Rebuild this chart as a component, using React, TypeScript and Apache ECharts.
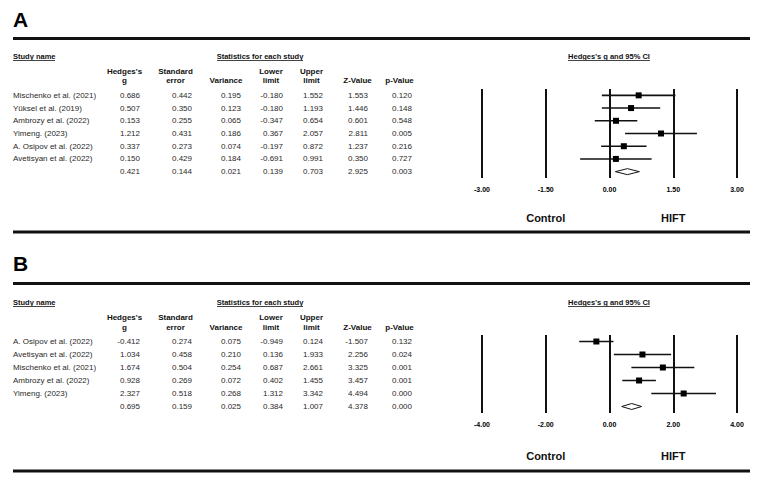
import React, { useEffect, useRef } from "react";
import * as echarts from "echarts";

// ---------- Panel A data ----------
const STUDIES_A = [
  "Mischenko et al. (2021)",
  "Yüksel et al. (2019)",
  "Ambrozy et al. (2022)",
  "Yimeng. (2023)",
  "A. Osipov et al. (2022)",
  "Avetisyan et al. (2022)",
  "",
];
const G_A = [0.686, 0.507, 0.153, 1.212, 0.337, 0.15, 0.421];
const SE_A = [0.442, 0.35, 0.255, 0.431, 0.273, 0.429, 0.144];
const VAR_A = [0.195, 0.123, 0.065, 0.186, 0.074, 0.184, 0.021];
const LOW_A = [-0.18, -0.18, -0.347, 0.367, -0.197, -0.691, 0.139];
const UP_A = [1.552, 1.193, 0.654, 2.057, 0.872, 0.991, 0.703];
const Z_A = [1.553, 1.446, 0.601, 2.811, 1.237, 0.35, 2.925];
const P_A = [0.12, 0.148, 0.548, 0.005, 0.216, 0.727, 0.003];
const AXIS_A = { min: -3, max: 3, interval: 1.5 };

// ---------- Panel B data ----------
const STUDIES_B = [
  "A. Osipov et al. (2022)",
  "Avetisyan et al. (2022)",
  "Mischenko et al. (2021)",
  "Ambrozy et al. (2022)",
  "Yimeng. (2023)",
  "",
];
const G_B = [-0.412, 1.034, 1.674, 0.928, 2.327, 0.695];
const SE_B = [0.274, 0.458, 0.504, 0.269, 0.518, 0.159];
const VAR_B = [0.075, 0.21, 0.254, 0.072, 0.268, 0.025];
const LOW_B = [-0.949, 0.136, 0.687, 0.402, 1.312, 0.384];
const UP_B = [0.124, 1.933, 2.661, 1.455, 3.342, 1.007];
const Z_B = [-1.507, 2.256, 3.325, 3.457, 4.494, 4.378];
const P_B = [0.132, 0.024, 0.001, 0.001, 0.0, 0.0];
const AXIS_B = { min: -4, max: 4, interval: 2 };

const HEADERS = [
  ["Hedges's", "g"],
  ["Standard", "error"],
  ["", "Variance"],
  ["Lower", "limit"],
  ["Upper", "limit"],
  ["", "Z-Value"],
  ["", "p-Value"],
];
const FAVOURS = ["Control", "HIFT"];

const FONT = "'Liberation Sans', Arial, Helvetica, sans-serif";
const COL_RIGHT = [140, 192, 241, 283, 323, 368, 412];
const COL_CENTER = [124.5, 175.5, 226, 271, 311.5, 357.5, 399.5];
const PLOT_LEFT = 482;
const PLOT_RIGHT = 737;

type Panel = {
  label: string;
  studies: string[];
  cols: number[][];
  g: number[];
  low: number[];
  up: number[];
  axis: { min: number; max: number; interval: number };
  labelY: number;
  topLine: number;
  titleY: number;
  head1Y: number;
  head2Y: number;
  gridTop: number;
  gridH: number;
  bottomLine: number;
  favY: number;
};

const PANELS: Panel[] = [
  {
    label: "A",
    studies: STUDIES_A,
    cols: [G_A, SE_A, VAR_A, LOW_A, UP_A, Z_A, P_A],
    g: G_A,
    low: LOW_A,
    up: UP_A,
    axis: AXIS_A,
    labelY: 19.5,
    topLine: 38.5,
    titleY: 56,
    head1Y: 71,
    head2Y: 80,
    gridTop: 89,
    gridH: 89,
    bottomLine: 232,
    favY: 218,
  },
  {
    label: "B",
    studies: STUDIES_B,
    cols: [G_B, SE_B, VAR_B, LOW_B, UP_B, Z_B, P_B],
    g: G_B,
    low: LOW_B,
    up: UP_B,
    axis: AXIS_B,
    labelY: 263.5,
    topLine: 283.5,
    titleY: 302,
    head1Y: 317,
    head2Y: 327,
    gridTop: 335,
    gridH: 78,
    bottomLine: 471,
    favY: 456,
  },
];

function txt(
  x: number,
  y: number,
  text: string,
  opts: { size?: number; bold?: boolean; align?: string; color?: string } = {}
) {
  return {
    type: "text",
    x,
    y,
    silent: true,
    style: {
      text,
      fontFamily: FONT,
      fontSize: opts.size ?? 8,
      fontWeight: opts.bold ? "bold" : "normal",
      fill: opts.color ?? "#2a2a2a",
      align: opts.align ?? "left",
      verticalAlign: "middle",
    },
  };
}

function hline(x1: number, x2: number, y: number, w: number, color = "#111") {
  return {
    type: "line",
    silent: true,
    shape: { x1, y1: y, x2, y2: y },
    style: { stroke: color, lineWidth: w },
  };
}

function buildOption() {
  const grids: any[] = [];
  const xAxes: any[] = [];
  const yAxes: any[] = [];
  const series: any[] = [];
  const graphics: any[] = [];

  PANELS.forEach((p, pi) => {
    const n = p.studies.length;
    const rowH = p.gridH / n;
    grids.push({
      left: PLOT_LEFT,
      width: PLOT_RIGHT - PLOT_LEFT,
      top: p.gridTop,
      height: p.gridH,
      containLabel: false,
    });
    xAxes.push({
      type: "value",
      gridIndex: pi,
      min: p.axis.min,
      max: p.axis.max,
      interval: p.axis.interval,
      axisLine: { show: false },
      axisTick: { show: false },
      splitLine: { show: true, lineStyle: { color: "#111", width: 2 } },
      axisLabel: {
        margin: 8,
        fontFamily: FONT,
        fontSize: 7,
        fontWeight: "bold",
        color: "#000000",
        textBorderWidth: 0,
        formatter: (v: number) => v.toFixed(2),
      },
    });
    yAxes.push({
      type: "value",
      gridIndex: pi,
      inverse: true,
      min: -0.5,
      max: n - 0.5,
      show: false,
      splitLine: { show: false },
    });
    const data = p.g.map((g, i) => [g, p.low[i], p.up[i], i, i === n - 1 ? 1 : 0]);
    series.push({
      type: "custom",
      xAxisIndex: pi,
      yAxisIndex: pi,
      encode: { x: [0, 1, 2], y: 3 },
      data,
      renderItem: (_params: any, api: any) => {
        const g = api.value(0);
        const lo = api.value(1);
        const hi = api.value(2);
        const row = api.value(3);
        const summ = api.value(4);
        const pc = api.coord([g, row]);
        const pl = api.coord([lo, row]);
        const ph = api.coord([hi, row]);
        if (summ) {
          return {
            type: "polygon",
            shape: {
              points: [
                [pl[0], pc[1]],
                [pc[0], pc[1] - 3],
                [ph[0], pc[1]],
                [pc[0], pc[1] + 3],
              ],
            },
            style: { fill: "#fff", stroke: "#111", lineWidth: 1 },
          };
        }
        return {
          type: "group",
          children: [
            {
              type: "line",
              shape: { x1: pl[0], y1: pc[1], x2: ph[0], y2: pc[1] },
              style: { stroke: "#111", lineWidth: 1.6 },
            },
            {
              type: "rect",
              shape: { x: pc[0] - 3, y: pc[1] - 3, width: 6, height: 6 },
              style: { fill: "#000" },
            },
          ],
        };
      },
    });

    // Panel label & rules
    graphics.push(txt(13, p.labelY, p.label, { size: 21, bold: true, color: "#000" }));
    graphics.push(hline(13, 750, p.topLine, 3));
    graphics.push(hline(13, 750, p.bottomLine, 3));

    // Section titles
    graphics.push(txt(13, p.titleY, "Study name", { size: 7.5, bold: true, color: "#111" }));
    graphics.push(hline(13, 55, p.titleY + 4.5, 1, "#444"));
    graphics.push(
      txt(260, p.titleY, "Statistics for each study", { size: 7.5, bold: true, align: "center", color: "#111" })
    );
    graphics.push(hline(217, 303, p.titleY + 4.5, 1, "#444"));
    graphics.push(
      txt(609, p.titleY, "Hedges's g and 95% CI", { size: 7.5, bold: true, align: "center", color: "#111" })
    );
    graphics.push(hline(568, 650, p.titleY + 4.5, 1, "#444"));

    // Column headers
    HEADERS.forEach((h, ci) => {
      if (h[0]) graphics.push(txt(COL_CENTER[ci], p.head1Y, h[0], { bold: true, align: "center", color: "#111" }));
      graphics.push(txt(COL_CENTER[ci], p.head2Y, h[1], { bold: true, align: "center", color: "#111" }));
    });

    // Rows
    p.studies.forEach((s, i) => {
      const y = p.gridTop + (i + 0.5) * rowH;
      if (s) graphics.push(txt(13, y, s));
      p.cols.forEach((col, ci) => {
        graphics.push(txt(COL_RIGHT[ci], y, col[i].toFixed(3), { align: "right" }));
      });
    });

    // Favours labels
    const span = PLOT_RIGHT - PLOT_LEFT;
    graphics.push(
      txt(PLOT_LEFT + span * 0.25, p.favY, FAVOURS[0], { size: 11, bold: true, align: "center", color: "#111" })
    );
    graphics.push(
      txt(PLOT_LEFT + span * 0.75, p.favY, FAVOURS[1], { size: 11, bold: true, align: "center", color: "#111" })
    );
  });

  return {
    animation: false,
    backgroundColor: "#ffffff",
    grid: grids,
    xAxis: xAxes,
    yAxis: yAxes,
    series,
    graphic: { elements: graphics },
  };
}

export default function App() {
  const ref = useRef<HTMLDivElement>(null);
  useEffect(() => {
    if (!ref.current) return;
    const chart = echarts.init(ref.current, undefined, { renderer: "svg" });
    chart.setOption(buildOption() as any);
    return () => chart.dispose();
  }, []);
  return (
    <div
      ref={ref}
      style={{ position: "absolute", left: 0, top: 0, width: 758, height: 481, background: "#fff" }}
    />
  );
}
